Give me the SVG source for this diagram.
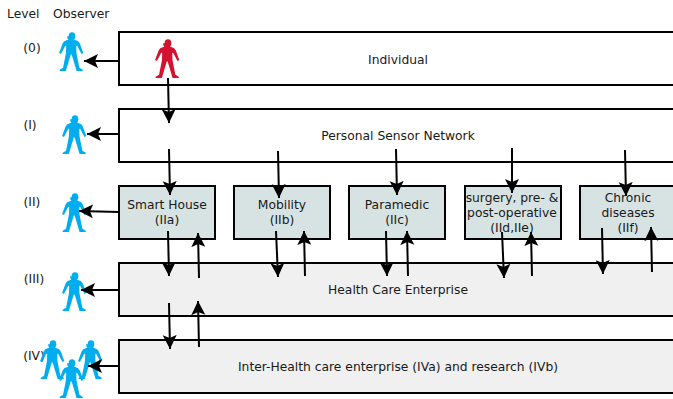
<svg xmlns="http://www.w3.org/2000/svg" width="673" height="399" viewBox="0 0 673 399">
<style>
text{font-family:"DejaVu Sans",sans-serif;font-size:12.3px;fill:#1a1a1a;text-anchor:middle}
.s{text-anchor:start}
.box{stroke:#000;stroke-width:2;fill:#fff}
.g{fill:#f0f0f0}
.t{fill:#d7e3e2}
.c{stroke:#000;stroke-width:2;fill:none;marker-end:url(#ah)}
.b{fill:#00aeef}
.r{fill:#d4112f}
</style>
<defs>
<marker id="ah" markerUnits="userSpaceOnUse" markerWidth="16" markerHeight="16" refX="14" refY="7.500" orient="auto" viewBox="0 0 16 15">
<path d="M14 7.500L0 .5L3 7.500L0 14.500Z" fill="#000"/>
</marker>
<path id="p" d="M-3 3.700a3 3.400 0 0 1 6 0c0 1.400-.5 2.400-1.200 3.100l3.700 1.400 1.500 2 3.100 8.500 -1.600.9 -3.900-7.400 -.8.300 .2 6.500 2.600 12.900 3 1.800v1.100h-5.500l-4.400-14.700h-.8l-4.400 14.700h-5.500v-1.100l3-1.800 2.600-12.900 .2-6.500 -.8-.3 -3.900 7.400 -1.600-.9 3.100-8.500 1.500-2 3.700-1.400c-.7-.7-1.200-1.700-1.200-3.100z"/>
</defs>
<g id="labels">
<text class="s" x="7" y="18">Level</text>
<text class="s" x="53" y="18">Observer</text>
<text x="32" y="52">(0)</text>
<text x="30" y="129">(I)</text>
<text x="32" y="206">(II)</text>
<text x="34" y="283">(III)</text>
<text x="34" y="360">(IV)</text>
</g>
<g id="observers">
<use href="#p" class="b" transform="translate(72,32) scale(1.120)"/>
<use href="#p" class="b" transform="translate(75,115) scale(1.120)"/>
<use href="#p" class="b" transform="translate(75,193) scale(1.120)"/>
<use href="#p" class="b" transform="translate(75,272) scale(1.120)"/>
<use href="#p" class="b" transform="translate(53,340) scale(1.120)"/>
<use href="#p" class="b" transform="translate(91,340) scale(1.120)"/>
<use href="#p" class="b" transform="translate(72,359) scale(1.120)"/>
</g>
<g id="n0"><rect class="box" x="119" y="32" width="556" height="53"/><text x="398" y="64">Individual</text></g>
<g id="person"><use href="#p" class="r" transform="translate(168,39) scale(1.120)"/></g>
<g id="n1"><rect class="box" x="119" y="109" width="556" height="53"/><text x="398" y="140">Personal Sensor Network</text></g>
<g id="n2a"><rect class="box t" x="119" y="186" width="96" height="53"/><text x="167" y="209">Smart House</text><text x="167" y="224">(IIa)</text></g>
<g id="n2b"><rect class="box t" x="234" y="186" width="96" height="53"/><text x="282" y="209">Mobility</text><text x="282" y="224">(IIb)</text></g>
<g id="n2c"><rect class="box t" x="349" y="186" width="96" height="53"/><text x="397" y="209">Paramedic</text><text x="397" y="224">(IIc)</text></g>
<g id="n2d"><rect class="box t" x="465" y="186" width="96" height="53"/><text x="512" y="202">surgery, pre- &amp;</text><text x="512" y="217">post-operative</text><text x="512" y="232">(IId,IIe)</text></g>
<g id="n2f"><rect class="box t" x="580" y="186" width="96" height="53"/><text x="628" y="202">Chronic</text><text x="628" y="217">diseases</text><text x="628" y="232">(IIf)</text></g>
<g id="n3"><rect class="box g" x="119" y="263" width="556" height="53"/><text x="398" y="294">Health Care Enterprise</text></g>
<g id="n4"><rect class="box g" x="119" y="340" width="556" height="53"/><text x="398" y="371">Inter-Health care enterprise (IVa) and research (IVb)</text></g>
<g id="connectors">
<path class="c" d="M119 61H84"/>
<path class="c" d="M119 134H87"/>
<path class="c" d="M119 212L79 211"/>
<path class="c" d="M119 290H81"/>
<path class="c" d="M119 366H88"/>
<path class="c" d="M168 78L169 123"/>
<path class="c" d="M169 149L170 195"/>
<path class="c" d="M278 151L279 198"/>
<path class="c" d="M396 149L397 195"/>
<path class="c" d="M512 148L512 193"/>
<path class="c" d="M625 150L626 196"/>
<path class="c" d="M168 231L169 276"/>
<path class="c" d="M199 278L198 233"/>
<path class="c" d="M276 231L278 277"/>
<path class="c" d="M305 276L304 231"/>
<path class="c" d="M386 231L387 276"/>
<path class="c" d="M408 276L407 231"/>
<path class="c" d="M502 232L504 278"/>
<path class="c" d="M532 276L531 232"/>
<path class="c" d="M602 228L603 274"/>
<path class="c" d="M652 272L651 227"/>
<path class="c" d="M169 303L170 349"/>
<path class="c" d="M199 347L198 301"/>
</g>
</svg>
